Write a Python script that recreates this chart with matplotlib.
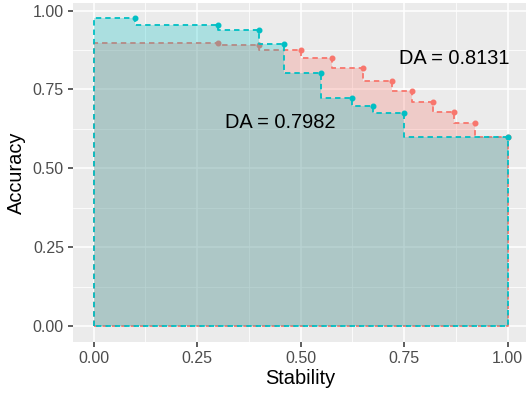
import matplotlib
matplotlib.use("Agg")
import matplotlib.pyplot as plt
import numpy as np

plt.rcParams['font.family'] = ['Liberation Sans', 'DejaVu Sans']

# Data
red_stability = [0.0, 0.30, 0.40, 0.50, 0.575, 0.65, 0.72, 0.77, 0.82, 0.87, 0.92, 1.00]
red_accuracy = [None, 0.898, 0.891, 0.875, 0.850, 0.817, 0.778, 0.745, 0.710, 0.678, 0.645, 0.599]
cyan_stability = [0.0, 0.10, 0.30, 0.40, 0.46, 0.55, 0.625, 0.675, 0.75, 1.00]
cyan_accuracy = [None, 0.975, 0.955, 0.939, 0.893, 0.802, 0.724, 0.699, 0.675, 0.599]
labels = ["DA = 0.7982", "DA = 0.8131"]
label_pos = [(0.45, 0.645), (0.870, 0.848)]

RED = "#F8766D"
CYAN = "#00BFC4"

W, H = 526, 393
fig = plt.figure(figsize=(W / 100, H / 100), dpi=100)
fig.patch.set_facecolor("white")
left, right, top, bottom = 73, 528.4, 3, 341.7
ax = fig.add_axes([left / W, 1 - bottom / H, (right - left) / W, (bottom - top) / H])
ax.set_facecolor("#EBEBEB")
ax.set_xlim(-0.05, 1.05)
ax.set_ylim(-0.04875, 1.02375)

ticks = [0.0, 0.25, 0.5, 0.75, 1.0]
minor = [0.125, 0.375, 0.625, 0.875]
ax.set_xticks(ticks)
ax.set_yticks(ticks)
ax.set_xticks(minor, minor=True)
ax.set_yticks(minor, minor=True)
ax.set_xticklabels([f"{t:.2f}" for t in ticks])
ax.set_yticklabels([f"{t:.2f}" for t in ticks])
ax.grid(which="major", color="white", linewidth=1.1, zorder=0)
ax.grid(which="minor", color="white", linewidth=0.55, zorder=0)
ax.set_axisbelow(True)
for s in ax.spines.values():
    s.set_visible(False)
ax.tick_params(which="major", length=3.5, width=1.1, color="#333333",
               labelcolor="#4D4D4D", labelsize=11.5, pad=3)
ax.tick_params(which="minor", length=0)

def step_polygon(xs, ys):
    px, py = [0.0], [0.0]
    px.append(xs[0]); py.append(ys[1])
    for i in range(1, len(xs)):
        px.append(xs[i]); py.append(ys[i])
        if i + 1 < len(xs):
            px.append(xs[i]); py.append(ys[i + 1])
    px.append(xs[-1]); py.append(0.0)
    px.append(0.0); py.append(0.0)
    return px, py

z = 2
for xs, ys, col in [(red_stability, red_accuracy, RED), (cyan_stability, cyan_accuracy, CYAN)]:
    px, py = step_polygon(xs, ys)
    ax.fill(px, py, color=col, alpha=0.27, linewidth=0, zorder=z)
    ax.plot(px, py, color=col, linewidth=1.3, linestyle=(0, (3, 2.2)), zorder=z + 0.1)
    ax.plot(xs[1:], ys[1:], "o", color=col, markersize=3.3, zorder=z + 0.2)
    z += 1

for txt, (x, y) in zip(labels, label_pos):
    ax.text(x, y, txt, ha="center", va="center", fontsize=14.4, color="black", zorder=10)

ax.set_xlabel("Stability", fontsize=14.4, labelpad=2)
ax.set_ylabel("Accuracy", fontsize=14.4, labelpad=5)

fig.savefig("out.png", dpi=100)
